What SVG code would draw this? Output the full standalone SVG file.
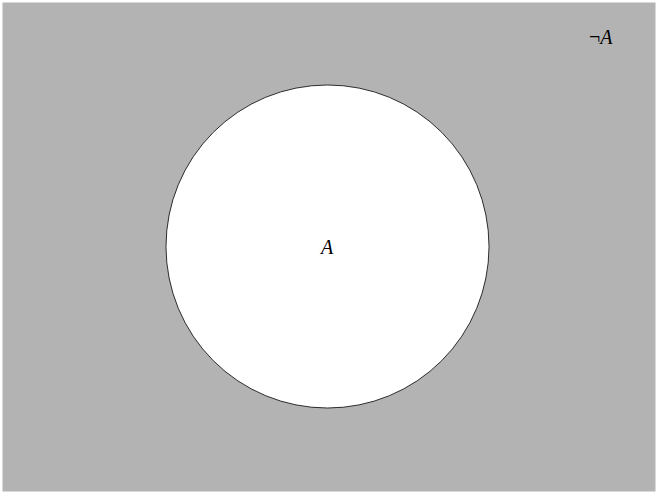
<svg xmlns="http://www.w3.org/2000/svg" width="659" height="496" viewBox="0 0 659 496">
<style>
.lbl{font-family:"Liberation Serif","DejaVu Serif",serif;font-size:20px;fill:#000}
.it{font-style:italic}
</style>
<rect x="0" y="0" width="659" height="496" fill="#ffffff"/>
<g id="universe">
<rect x="2.5" y="2.5" width="653" height="489" fill="#b3b3b3"/>
<text class="lbl" x="589" y="43.5"><tspan>¬</tspan><tspan class="it">A</tspan></text>
</g>
<g id="setA">
<circle cx="327.5" cy="246.5" r="161.5" fill="#ffffff" stroke="#000000" stroke-width="0.8"/>
<text class="lbl it" x="327" y="253.5" text-anchor="middle">A</text>
</g>
<g id="connectors"></g>
</svg>
